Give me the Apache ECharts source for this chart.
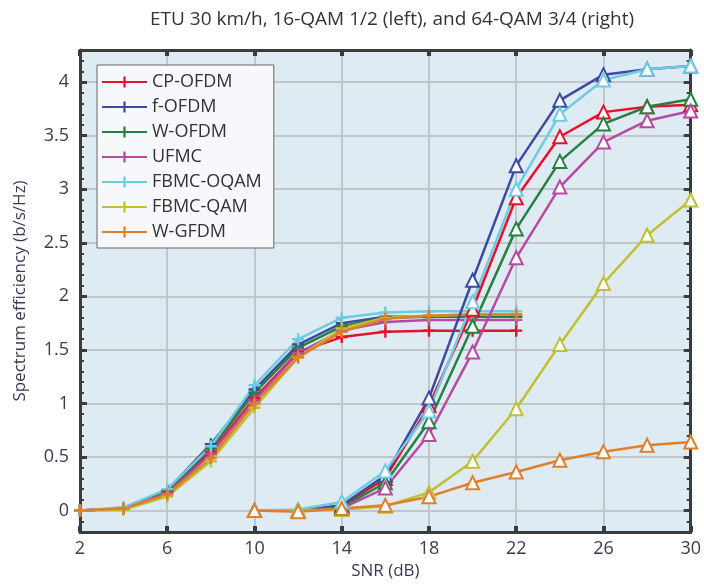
<!DOCTYPE html>
<html>
<head>
<meta charset="utf-8">
<script src="https://cdn.jsdelivr.net/npm/echarts@6/dist/echarts.min.js"></script>
<style>
  html, body { margin: 0; padding: 0; background: #fff; }
  #chart { width: 704px; height: 585px; }
</style>
</head>
<body>
<div id="chart"></div>
<script>
// SNR categories (dB)
const snr = ['2', '4', '6', '8', '10', '12', '14', '16', '18', '20', '22', '24', '26', '28', '30'];
const names = ['CP-OFDM', 'f-OFDM', 'W-OFDM', 'UFMC', 'FBMC-OQAM', 'FBMC-QAM', 'W-GFDM'];
const colors = ['#e8112d', '#3d4aa2', '#26803f', '#b64aa2', '#6fcbe0', '#c0c032', '#e07f2a'];

// 16-QAM 1/2, SNR 2..22
const cpLow = [0, 0.02, 0.17, 0.55, 1.05, 1.48, 1.62, 1.67, 1.68, 1.68, 1.68];
const fLow = [0, 0.02, 0.19, 0.62, 1.13, 1.55, 1.75, 1.81, 1.81, 1.81, 1.81];
const wLow = [0, 0.02, 0.18, 0.58, 1.1, 1.52, 1.72, 1.8, 1.81, 1.81, 1.81];
const ufLow = [0, 0.02, 0.16, 0.53, 1.03, 1.47, 1.68, 1.76, 1.78, 1.78, 1.78];
const oqLow = [0, 0.03, 0.2, 0.6, 1.17, 1.6, 1.8, 1.85, 1.86, 1.86, 1.86];
const qamLow = [0, 0.01, 0.13, 0.46, 0.96, 1.43, 1.7, 1.8, 1.82, 1.83, 1.83];
const gfLow = [0, 0.02, 0.15, 0.49, 1.0, 1.43, 1.67, 1.79, 1.82, 1.83, 1.83];

// 64-QAM 3/4, SNR 10..30
const cpHigh = [0, 0, 0.04, 0.3, 0.98, 1.88, 2.92, 3.49, 3.72, 3.77, 3.79];
const fHigh = [0, 0, 0.05, 0.33, 1.05, 2.15, 3.22, 3.83, 4.07, 4.12, 4.15];
const wHigh = [0, 0, 0.03, 0.26, 0.83, 1.72, 2.63, 3.26, 3.61, 3.77, 3.84];
const ufHigh = [0, 0, 0.02, 0.21, 0.71, 1.48, 2.36, 3.02, 3.44, 3.64, 3.73];
const oqHigh = [0, 0.01, 0.08, 0.37, 0.93, 1.95, 3.0, 3.7, 4.02, 4.12, 4.15];
const qamHigh = [0, 0, 0.01, 0.04, 0.17, 0.46, 0.95, 1.55, 2.12, 2.57, 2.9];
const gfHigh = [0, -0.01, 0.02, 0.05, 0.13, 0.26, 0.36, 0.47, 0.55, 0.61, 0.64];

const lowSets = [cpLow, fLow, wLow, ufLow, oqLow, qamLow, gfLow];
const highSets = [cpHigh, fHigh, wHigh, ufHigh, oqHigh, qamHigh, gfHigh];

const plusMark = 'path://M4,0H6V4H10V6H6V10H4V6H0V4H4Z';
const font = 'Open Sans';
const textColor = '#3a3a52';
const frame = '#3c3c3c';

let series = [];
// left group first so the legend uses the plus marker
names.forEach((n, i) => {
    series.push({
        name: n, type: 'line', data: lowSets[i],
        symbol: plusMark, symbolSize: 12,
        lineStyle: { width: 2.5, color: colors[i] },
        itemStyle: { color: colors[i] }
    });
});
names.forEach((n, i) => {
    series.push({
        name: n, type: 'line', data: [null, null, null, null].concat(highSets[i]),
        symbol: 'emptyTriangle', symbolSize: 13,
        lineStyle: { width: 2.5, color: colors[i] },
        itemStyle: { color: colors[i], borderWidth: 2.5 }
    });
});

function valueAxis(side, withLabels) {
    let ax = {
        type: 'value', min: -0.2, max: 4.3, splitNumber: 9, position: side,
        axisLine: { show: true, onZero: false, lineStyle: { color: frame, width: 3 } },
        axisTick: { show: true, inside: true, length: 7, lineStyle: { color: frame, width: 3 } },
        minorTick: { show: true, splitNumber: 5, length: 4, lineStyle: { color: frame, width: 2 } },
        axisLabel: { show: withLabels, margin: 11, fontFamily: font, fontSize: 18, color: textColor, showMinLabel: false, showMaxLabel: false },
        splitLine: { show: withLabels, lineStyle: { color: '#bfc6cc', width: 2 } }
    };
    if (withLabels) {
        ax.name = 'Spectrum efficiency (b/s/Hz)';
        ax.nameLocation = 'middle';
        ax.nameGap = 51;
        ax.nameTextStyle = { fontFamily: font, fontSize: 17, color: textColor };
    }
    return ax;
}

const chart = echarts.init(document.getElementById('chart'));
chart.setOption({
    animation: false,
    color: colors,
    title: {
        text: 'ETU 30 km/h, 16-QAM 1/2 (left), and 64-QAM 3/4 (right)',
        left: 387, top: 5, textAlign: 'center',
        textStyle: { fontFamily: font, fontSize: 19, fontWeight: 'normal', color: '#333' }
    },
    legend: {
        orient: 'vertical', left: 97, top: 65,
        padding: [8, 12, 7, 4],
        itemWidth: 45, itemHeight: 14, itemGap: 7,
        backgroundColor: '#f6f8fb', borderColor: '#666', borderWidth: 1,
        textStyle: { fontFamily: font, fontSize: 18, color: '#333' },
        data: names
    },
    grid: { left: 80, right: 7, top: 50, bottom: 52, show: true, backgroundColor: '#dfebf3', borderWidth: 0 },
    xAxis: [{
        type: 'category', data: snr, boundaryGap: false,
        name: 'SNR (dB)', nameLocation: 'middle', nameGap: 31,
        nameTextStyle: { fontFamily: font, fontSize: 17, color: textColor },
        axisLine: { onZero: false, lineStyle: { color: frame, width: 3 } },
        axisTick: { inside: true, interval: 1, length: 6, lineStyle: { color: frame, width: 4 } },
        axisLabel: { interval: 1, margin: 8, fontFamily: font, fontSize: 18, color: textColor },
        splitLine: { show: true, interval: 1, lineStyle: { color: '#bfc6cc', width: 2 } }
    }, {
        type: 'category', data: snr, boundaryGap: false, position: 'top',
        axisLine: { onZero: false, lineStyle: { color: frame, width: 3 } },
        axisTick: { inside: true, interval: 1, length: 6, lineStyle: { color: frame, width: 4 } },
        axisLabel: { show: false },
        splitLine: { show: false }
    }],
    yAxis: [valueAxis('left', true), valueAxis('right', false)],
    series: series
});
</script>
</body>
</html>
